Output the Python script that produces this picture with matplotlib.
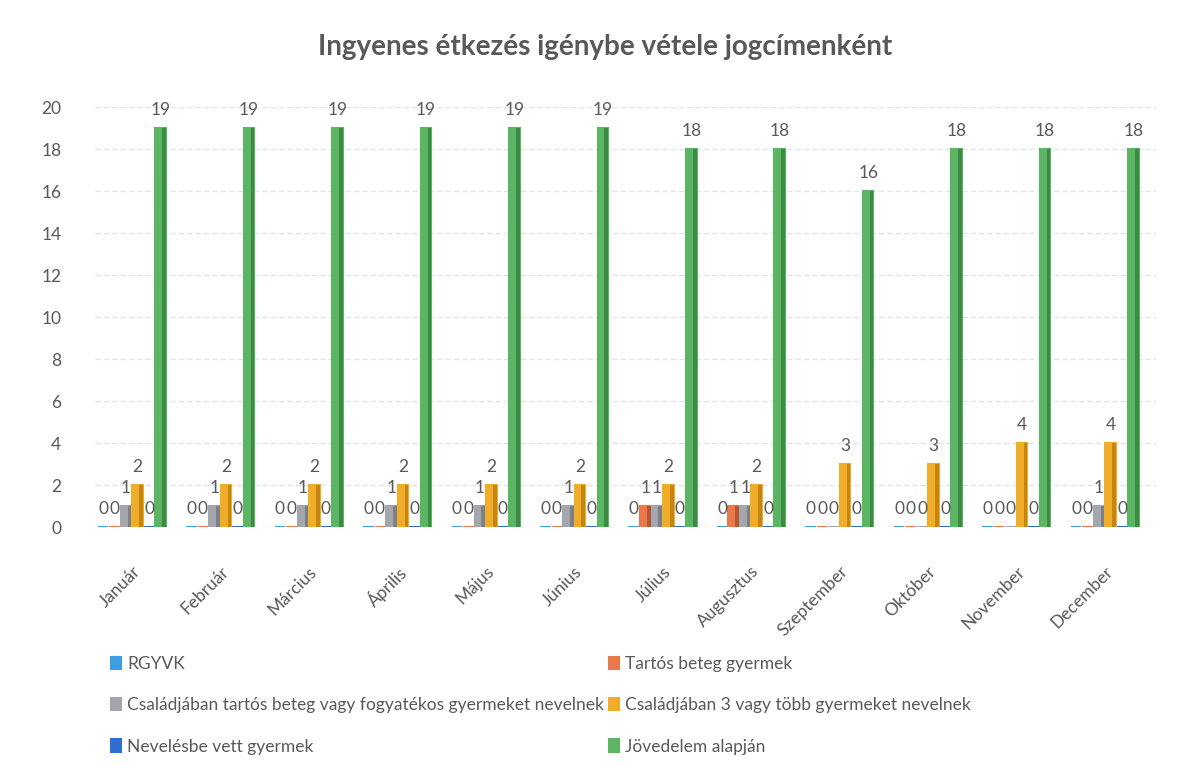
import numpy as np
import matplotlib
matplotlib.use("Agg")
from matplotlib import pyplot as plt

plt.rcParams['font.family'] = ['Lato', 'DejaVu Sans']

# data
months = ["Január", "Február", "Március", "Április", "Május", "Június",
          "Július", "Augusztus", "Szeptember", "Október", "November", "December"]
series_names = ["RGYVK", "Tartós beteg gyermek",
                "Családjában tartós beteg vagy fogyatékos gyermeket nevelnek",
                "Családjában 3 vagy több gyermeket nevelnek",
                "Nevelésbe vett gyermek", "Jövedelem alapján"]
rgyvk = [0, 0, 0, 0, 0, 0, 0, 0, 0, 0, 0, 0]
tartos = [0, 0, 0, 0, 0, 0, 1, 1, 0, 0, 0, 0]
csal_tartos = [1, 1, 1, 1, 1, 1, 1, 1, 0, 0, 0, 1]
csal_3 = [2, 2, 2, 2, 2, 2, 2, 2, 3, 3, 4, 4]
neveles = [0, 0, 0, 0, 0, 0, 0, 0, 0, 0, 0, 0]
jovedelem = [19, 19, 19, 19, 19, 19, 18, 18, 16, 18, 18, 18]

colors = ["#3d9fe0", "#e8794a", "#a3a6ad", "#f0ad2a", "#2f6fcf", "#5cb563"]
dark = ["#2a7bb5", "#b8552c", "#7d8088", "#c58512", "#1f4f9c", "#3d8a44"]

all_series = [rgyvk, tartos, csal_tartos, csal_3, neveles, jovedelem]
grey_txt = "#595959"

fig = plt.figure(figsize=(11.98, 7.65), dpi=100)
ax = fig.add_axes([0.079, 0.311, 0.886, 0.549])

x = np.arange(len(months))
w = 0.13
for i, (vals, name) in enumerate(zip(all_series, series_names)):
    pos = x + (i - 2.5) * w
    ax.bar(pos, vals, width=w * 0.92, color=colors[i], edgecolor=colors[i],
           linewidth=1.5, label=name, zorder=3)
    # darker right side for a bit of depth
    ax.bar(pos + w * 0.3, vals, width=w * 0.32, color=dark[i], linewidth=0, zorder=4)
    for px, v in zip(pos, vals):
        ax.annotate(str(v), (px, v), xytext=(0, 7), textcoords="offset points",
                    ha="center", va="bottom", fontsize=12.5, color=grey_txt, zorder=5)

ax.set_ylim(0, 20)
ax.set_xlim(-0.42, 11.58)
ax.set_yticks(range(0, 21, 2))
ax.set_xticks(x)
ax.set_xticklabels(months, rotation=45, ha="right", rotation_mode="anchor")
ax.tick_params(axis="both", length=0, labelsize=12.5, colors=grey_txt)
ax.tick_params(axis="y", pad=24)
ax.tick_params(axis="x", pad=26)
ax.grid(axis="y", color="#dde4ea", linewidth=1, linestyle=(0, (4, 2)), zorder=0)
for s in ax.spines.values():
    s.set_visible(False)

fig.suptitle("Ingyenes étkezés igénybe vétele jogcímenként", x=0.505, y=0.955,
             fontsize=20, fontweight="bold", color=grey_txt)

handles, labels = ax.get_legend_handles_labels()
order = [0, 2, 4, 1, 3, 5]
leg = fig.legend([handles[k] for k in order], [labels[k] for k in order],
                 ncol=2, loc="center left", bbox_to_anchor=(0.08, 0.078),
                 frameon=False, fontsize=12.5, handlelength=0.55, handleheight=0.7,
                 handletextpad=0.35, labelspacing=1.45, columnspacing=0.3)
for t in leg.get_texts():
    t.set_color(grey_txt)

fig.savefig("out.png", dpi=100)
